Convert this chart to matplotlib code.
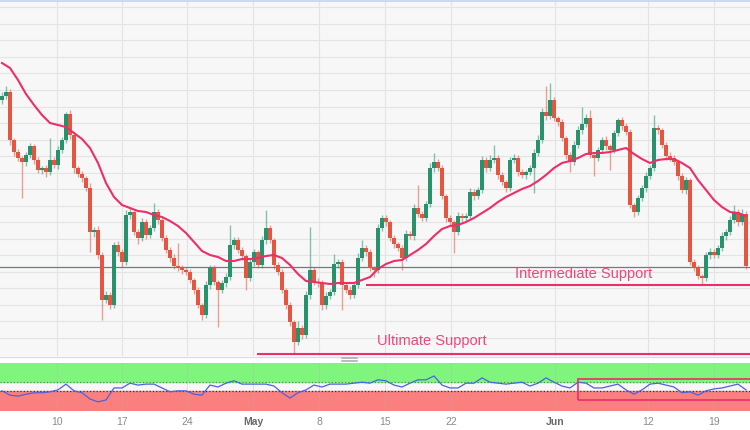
import numpy as np
import matplotlib
matplotlib.use('Agg')
import matplotlib.pyplot as plt
from matplotlib.patches import Rectangle
from matplotlib.lines import Line2D

plt.rcParams['font.family'] = ['Liberation Sans', 'DejaVu Sans']

# candle closes (price units), open of each candle = previous close
first_open = 255
closes = [259, 263, 215, 203, 197, 193, 200, 209, 195, 185,
          187, 183, 195, 190, 205, 215, 241, 220, 187, 181,
          177, 167, 123, 125, 100, 55, 60, 50, 110, 103,
          93, 140, 143, 123, 117, 133, 120, 127, 143, 135,
          117, 105, 97, 89, 87, 85, 83, 75, 65, 50,
          40, 70, 87, 73, 65, 72, 78, 110, 115, 105,
          99, 77, 93, 103, 90, 115, 127, 115, 90, 83,
          65, 50, 33, 13, 27, 20, 60, 85, 73, 72,
          50, 59, 63, 91, 93, 70, 65, 60, 70, 97,
          107, 103, 87, 85, 127, 137, 133, 117, 111, 107,
          97, 121, 119, 147, 141, 137, 151, 187, 193, 187,
          159, 137, 133, 123, 139, 137, 139, 163, 159, 165,
          195, 187, 195, 197, 180, 173, 167, 195, 197, 183,
          180, 183, 187, 202, 215, 243, 239, 255, 237, 233,
          217, 200, 193, 210, 225, 231, 237, 200, 197, 205,
          215, 209, 205, 222, 235, 229, 223, 150, 143, 157,
          167, 179, 187, 227, 225, 210, 199, 197, 193, 179,
          165, 175, 93, 87, 79, 77, 100, 103, 100, 107,
          119, 123, 135, 143, 133, 141, 89]

# wick lengths above / below the body
up_wick = [4, 6, 3, 2, 3, 2, 3, 3, 2, 3,
           2, 3, 22, 3, 4, 3, 2, 4, 3, 2,
           3, 2, 5, 3, 4, 3, 4, 3, 3, 4,
           3, 5, 4, 2, 3, 4, 3, 3, 9, 3,
           2, 3, 3, 4, 23, 3, 2, 3, 2, 3,
           2, 4, 3, 3, 2, 3, 4, 20, 3, 3,
           3, 2, 4, 3, 2, 4, 18, 3, 2, 3,
           3, 2, 3, 2, 7, 3, 4, 43, 3, 4,
           3, 4, 3, 10, 3, 3, 2, 4, 3, 5,
           8, 3, 3, 2, 4, 3, 3, 2, 3, 2,
           3, 4, 3, 4, 23, 3, 3, 5, 9, 3,
           3, 2, 3, 2, 4, 3, 3, 4, 3, 3,
           4, 3, 5, 13, 3, 3, 2, 3, 4, 3,
           3, 2, 3, 4, 5, 4, 26, 17, 3, 2,
           3, 2, 3, 4, 4, 17, 4, 8, 3, 3,
           3, 4, 2, 3, 2, 3, 3, 3, 2, 3,
           3, 4, 3, 13, 3, 2, 3, 4, 3, 2,
           3, 3, 2, 3, 3, 2, 3, 4, 3, 3,
           4, 3, 4, 7, 3, 5, 3]
down_wick = [4, 3, 5, 4, 3, 36, 4, 3, 4, 3,
             4, 5, 3, 3, 4, 3, 3, 4, 5, 3,
             4, 3, 20, 5, 4, 20, 3, 4, 3, 4,
             5, 3, 4, 3, 6, 3, 4, 3, 3, 4,
             3, 3, 4, 3, 3, 4, 3, 3, 4, 3,
             5, 3, 4, 3, 37, 3, 4, 3, 4, 3,
             4, 12, 3, 4, 3, 3, 4, 3, 4, 3,
             3, 4, 4, 11, 3, 4, 3, 4, 3, 4,
             5, 4, 3, 3, 4, 25, 3, 4, 3, 3,
             3, 4, 3, 7, 3, 3, 4, 3, 4, 3,
             12, 3, 3, 4, 3, 3, 3, 3, 4, 3,
             3, 4, 3, 21, 3, 4, 3, 3, 4, 3,
             3, 4, 3, 3, 4, 3, 4, 3, 3, 4,
             3, 4, 3, 25, 3, 3, 4, 3, 3, 4,
             3, 4, 10, 3, 3, 4, 3, 3, 18, 3,
             3, 4, 20, 3, 3, 4, 3, 3, 5, 3,
             3, 4, 3, 3, 4, 3, 4, 3, 3, 4,
             3, 4, 3, 3, 3, 7, 3, 4, 3, 3,
             3, 4, 3, 3, 4, 3, 3]

# moving average, one value every 2 candles
ma_values = [292, 287, 275, 261, 250, 240, 232, 230, 228, 222,
             216, 207, 192, 172, 158, 150, 147, 144, 143, 140,
             138, 134, 129, 122, 113, 104, 100, 98, 94, 94,
             96, 96, 97, 99, 100, 97, 90, 81, 74, 73,
             72, 71, 72, 72, 72, 75, 78, 86, 91, 94,
             95, 100, 105, 111, 119, 126, 129, 130, 133, 137,
             142, 147, 153, 158, 162, 166, 169, 174, 180, 187,
             192, 194, 197, 201, 202, 202, 203, 205, 207, 201,
             196, 192, 195, 196, 196, 192, 187, 175, 165, 155,
             148, 143, 142, 139]

# oscillator (lower pane), one value every 2 candles
osc_values = [42, 33, 31, 35, 38, 38, 40, 44, 56, 42,
              38, 25, 19, 23, 48, 48, 58, 54, 56, 56,
              48, 40, 42, 42, 35, 33, 54, 50, 58, 63,
              56, 56, 56, 56, 52, 38, 27, 38, 44, 54,
              50, 56, 56, 56, 58, 60, 58, 65, 63, 54,
              50, 58, 65, 65, 73, 54, 48, 48, 58, 58,
              69, 60, 58, 56, 58, 60, 52, 58, 69, 60,
              52, 48, 60, 58, 48, 48, 52, 56, 44, 35,
              44, 56, 58, 54, 50, 38, 40, 33, 42, 46,
              48, 52, 56, 44]

last_price = 88
intermediate_support = 70
ultimate_support = 1
osc_upper, osc_lower = 60, 42

tick_pos = [13.75, 30, 46.25, 62.75, 79.25, 95.75, 112.25, 138.25, 161.5, 178]
tick_labels = ['10', '17', '24', 'May', '8', '15', '22', 'Jun', '12', '19']

opens = [first_open] + closes[:-1]
idx = np.arange(len(closes))
o = np.array(opens)
c = np.array(closes)
top = np.maximum(o, c)
bot = np.minimum(o, c)
highs = top + np.array(up_wick)
lows = bot - np.array(down_wick)
green, red = '#27936c', '#e5553f'
cols = [green if cc >= oo else red for oo, cc in zip(o, c)]

pink = '#ee2d6b'

fig = plt.figure(figsize=(7.5, 4.3), dpi=100, facecolor='white')

# main price pane
ax = fig.add_axes([0, 1 - 356 / 430, 1, 355 / 430])
ax.set_facecolor('#f7f7f7')
ax.set_xlim(-0.5, 187)
ax.set_ylim(-1, 354)
for v in np.linspace(17, 347.7, 21):
    ax.axhline(v, color='#e4e4e4', lw=0.8, zorder=0)
for tp in tick_pos:
    ax.axvline(tp, color='#e4e4e4', lw=0.8, zorder=0)

ax.vlines(idx, lows, highs, colors=cols, alpha=0.55, lw=1, zorder=2)
ax.bar(idx, np.maximum(top - bot, 0.8), bottom=bot, width=0.8, color=cols, zorder=3)

ax.plot(np.arange(len(ma_values)) * 2, ma_values, color=pink, lw=1.5, zorder=4)
ax.axhline(last_price, color='#6d7a8e', lw=0.9, zorder=1)
ax.hlines(intermediate_support, 91, 187, color=pink, lw=1.5, zorder=4)
ax.hlines(ultimate_support, 63.75, 187, color=pink, lw=1.5, zorder=4)
ax.text(128.25, 81, 'Intermediate Support', color='#f0457c', fontsize=10.5,
        ha='left', va='center', zorder=5)
ax.text(93.75, 14, 'Ultimate Support', color='#f0457c', fontsize=10.5,
        ha='left', va='center', zorder=5)

ax.set_xticks([])
ax.set_yticks([])
for s in ['left', 'right', 'bottom']:
    ax.spines[s].set_visible(False)
ax.spines['top'].set_color('#c5d3ec')
ax.spines['top'].set_linewidth(1.2)

# separator and drag handle
ysep = 1 - 356.8 / 430
fig.add_artist(Line2D([0, 1], [ysep, ysep], transform=fig.transFigure, color='#dcdce8', lw=1))
for yy in (358, 360.5):
    yf = 1 - yy / 430
    fig.add_artist(Line2D([342 / 750, 357 / 750], [yf, yf], transform=fig.transFigure,
                          color='#a8a8a8', lw=1.1))

# oscillator pane
ax2 = fig.add_axes([0, 1 - 411 / 430, 1, 48 / 430])
ax2.set_facecolor('#f7f7f7')
ax2.set_xlim(-0.5, 187)
ax2.set_ylim(0, 100)
ax2.axhspan(osc_upper, 100, color='#80f57e', zorder=0)
ax2.axhspan(0, osc_lower, color='#fa7f7f', zorder=0)
for tp in tick_pos:
    ax2.axvline(tp, color='#b0b0b0', lw=0.6, alpha=0.35, zorder=1)
ax2.axhline(osc_upper, color='#5f8a5f', ls=':', lw=0.9, zorder=2)
ax2.axhline(osc_lower, color='#333333', ls=':', lw=0.9, zorder=2)
ax2.plot(np.arange(len(osc_values)) * 2, osc_values, color='#4a63e0', lw=0.9, zorder=3)
ax2.add_patch(Rectangle((144, 23), 50, 44, fill=False, edgecolor='#e8306a', lw=1.2, zorder=4))

ax2.set_yticks([])
ax2.set_xticks(tick_pos)
ax2.set_xticklabels(tick_labels)
ax2.tick_params(axis='x', length=0, pad=4, labelsize=7.5, colors='#8a8a8a')
for lab in ax2.get_xticklabels():
    if lab.get_text() in ('May', 'Jun'):
        lab.set_fontweight('bold')
        lab.set_color('#6a6a6a')
for s in ax2.spines.values():
    s.set_visible(False)

fig.savefig('out.png', dpi=100, facecolor='white')
